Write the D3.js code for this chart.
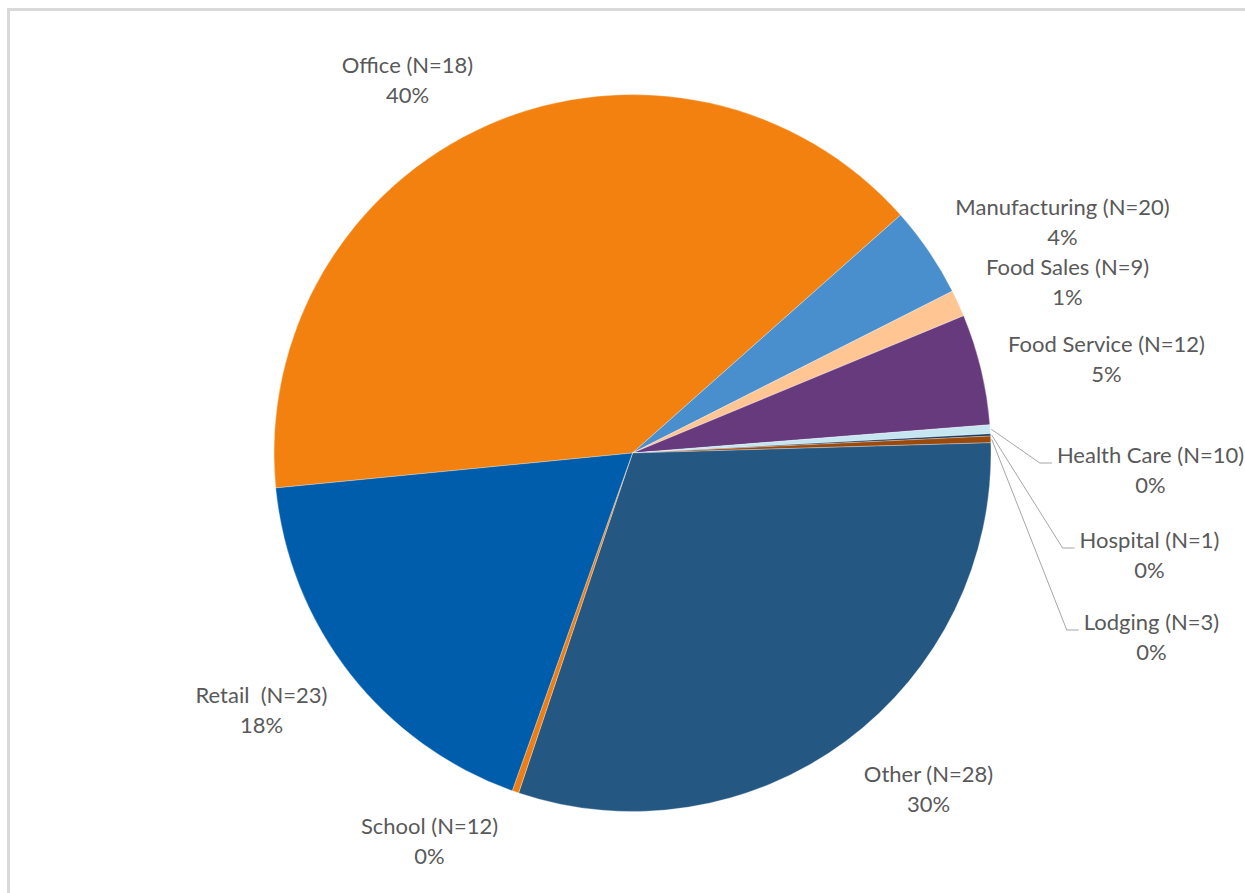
<!DOCTYPE html>
<html>
<head>
<meta charset="utf-8">
<script src="https://cdn.jsdelivr.net/npm/d3@7"></script>
<style>
  html, body { margin: 0; padding: 0; background: #fff; overflow: hidden; }
  svg { display: block; }
</style>
</head>
<body>
<svg id="chart" width="1245" height="893"></svg>
<script>
// Share of savings by building type (clockwise from the Office slice)
const categories = ["Office", "Manufacturing", "Food Sales", "Food Service", "Health Care",
                    "Hospital", "Lodging", "Other", "School", "Retail"];
const counts     = [18, 20, 9, 12, 10, 1, 3, 28, 12, 23];
const shares     = [40.0, 4.1, 1.2, 5.0, 0.4, 0.1, 0.3, 30.6, 0.3, 18.0];
const pctLabels  = ["40%", "4%", "1%", "5%", "0%", "0%", "0%", "30%", "0%", "18%"];
const nameLabels = ["Office (N=18)", "Manufacturing (N=20)", "Food Sales (N=9)", "Food Service (N=12)",
                    "Health Care (N=10)", "Hospital (N=1)", "Lodging (N=3)", "Other (N=28)",
                    "School (N=12)", "Retail  (N=23)"];

const colors = ["#f28110", "#4a8fcd", "#ffc592", "#673a7e", "#c5e6f1",
                "#16365c", "#9c4a0b", "#245782", "#f07d10", "#005dab"];

// label placement relative to pie centre: [x of text centre, baseline of first line]
const labelLayout = [
  { x: -225, y: -380 },
  { x: 430,  y: -238 },
  { x: 435,  y: -178 },
  { x: 474,  y: -101 },
  { x: 518,  y: 10,  leader: true },
  { x: 517,  y: 95,  leader: true },
  { x: 519,  y: 177, leader: true },
  { x: 296,  y: 329 },
  { x: -203, y: 381 },
  { x: -371, y: 250 }
];

const W = 1245, H = 893;
const cx = 632.5, cy = 453, R = 358.5;
const startDeg = -95.6;
const fontSize = 22, lineGap = 30;
const fontFamily = "Lato, 'Noto Sans', sans-serif";

const svg = d3.select("#chart");

// chart area frame
svg.append("rect")
  .attr("x", 8.5).attr("y", 9.5)
  .attr("width", W + 20).attr("height", H + 20)
  .attr("fill", "#fff")
  .attr("stroke", "#d9d9d9").attr("stroke-width", 3);

const data = categories.map((c, i) => ({ name: c, n: counts[i], value: shares[i], i }));

const pie = d3.pie()
  .value(d => d.value)
  .sort(null)
  .startAngle(startDeg * Math.PI / 180)
  .endAngle((startDeg + 360) * Math.PI / 180);

const arcs = pie(data);
const arc = d3.arc().innerRadius(0).outerRadius(R);

const g = svg.append("g").attr("transform", `translate(${cx},${cy})`);

g.selectAll("path.slice")
  .data(arcs)
  .join("path")
  .attr("class", "slice")
  .attr("d", arc)
  .attr("fill", d => colors[d.data.i])
  .attr("stroke", "#ffffff")
  .attr("stroke-width", 0.3);

function measure(txt) {
  const t = svg.append("text")
    .attr("font-family", fontFamily)
    .attr("font-size", fontSize)
    .style("white-space", "pre")
    .text(txt);
  const w = t.node().getComputedTextLength();
  t.remove();
  return w;
}

// leader lines for the thin slices
arcs.forEach(a => {
  const L = labelLayout[a.data.i];
  if (!L.leader) return;
  const mid = (a.startAngle + a.endAngle) / 2;
  const x0 = Math.sin(mid) * (R + 1), y0 = -Math.cos(mid) * (R + 1);
  const textW = measure(nameLabels[a.data.i]);
  const left = L.x - textW / 2 - 5;
  const elbow = left - 12;
  g.append("polyline")
    .attr("points", [[x0, y0], [elbow, L.y], [left, L.y]].map(p => p.join(",")).join(" "))
    .attr("fill", "none")
    .attr("stroke", "#a6a6a6")
    .attr("stroke-width", 1);
});

// two-line data labels
const labels = g.selectAll("g.lbl")
  .data(arcs)
  .join("g")
  .attr("class", "lbl")
  .attr("transform", d => {
    const L = labelLayout[d.data.i];
    return `translate(${L.x},${L.y})`;
  });

labels.append("text")
  .attr("text-anchor", "middle")
  .attr("font-family", fontFamily)
  .attr("font-size", fontSize)
  .attr("fill", "#595959")
  .style("white-space", "pre")
  .text(d => nameLabels[d.data.i]);

labels.append("text")
  .attr("text-anchor", "middle")
  .attr("y", lineGap)
  .attr("font-family", fontFamily)
  .attr("font-size", fontSize)
  .attr("fill", "#595959")
  .text(d => pctLabels[d.data.i]);
</script>
</body>
</html>
